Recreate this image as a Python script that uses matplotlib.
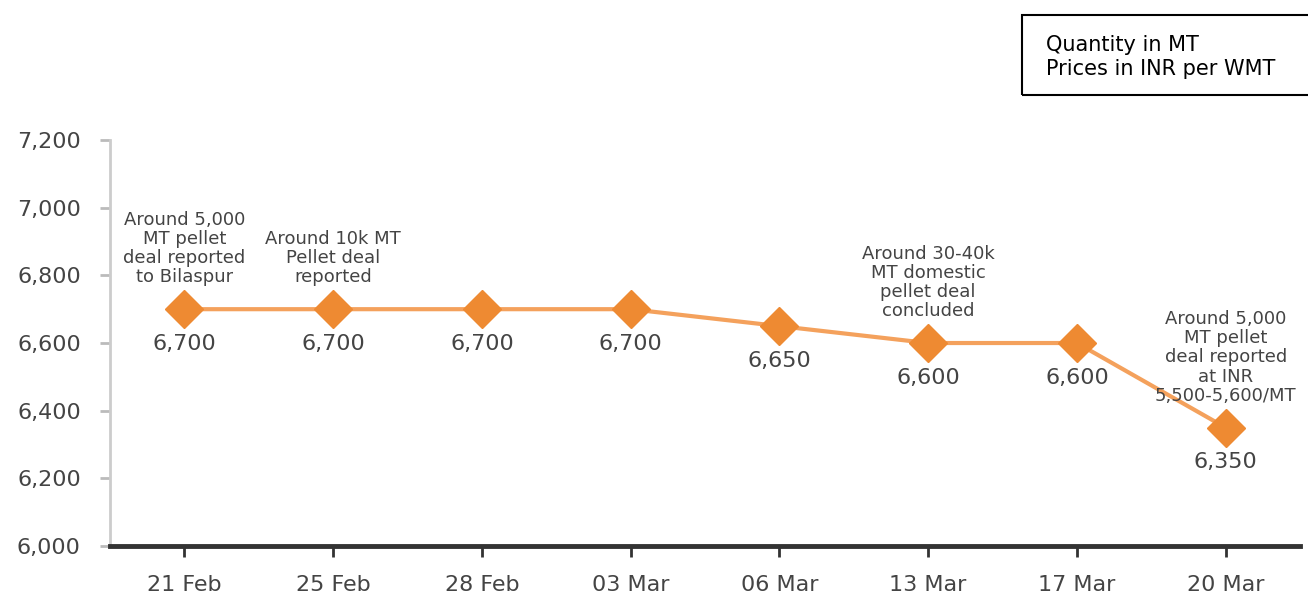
import matplotlib.pyplot as plt
from matplotlib.patches import Rectangle

plt.rcParams['font.family'] = ['DejaVu Sans']

dates = ["21 Feb", "25 Feb", "28 Feb", "03 Mar", "06 Mar", "13 Mar", "17 Mar", "20 Mar"]
prices = [6700, 6700, 6700, 6700, 6650, 6600, 6600, 6350]
notes = [
    "Around 5,000\nMT pellet\ndeal reported\nto Bilaspur",
    "Around 10k MT\nPellet deal\nreported",
    "",
    "",
    "",
    "Around 30-40k\nMT domestic\npellet deal\nconcluded",
    "",
    "Around 5,000\nMT pellet\ndeal reported\nat INR\n5,500-5,600/MT",
]
yticks = [6000, 6200, 6400, 6600, 6800, 7000, 7200]

fig = plt.figure(figsize=(13.08, 6.02), dpi=100)
ax = fig.add_axes([0.0841, 0.093, 0.9098, 0.6744])

x = list(range(len(dates)))
ax.plot(x, prices, color="#F4A15C", lw=3, zorder=2)
ax.plot(x, prices, ls="none", marker="D", ms=19, color="#EE8A32", zorder=3)

for i, p in enumerate(prices):
    ax.annotate(f"{p:,}", (i, p), xytext=(0, -25), textcoords="offset points",
                ha="center", va="center", fontsize=16, color="#444444")
    if notes[i]:
        ax.annotate(notes[i], (i, p), xytext=(0, 16.5),
                    textcoords="offset points", ha="center", va="bottom",
                    fontsize=13, color="#444444", linespacing=1.08)

ax.set_xlim(-0.5, 7.5)
ax.set_ylim(6000, 7200)
ax.set_xticks(x)
ax.set_xticklabels(dates)
ax.set_yticks(yticks)
ax.set_yticklabels([f"{v:,}" for v in yticks])

for s in ["top", "right"]:
    ax.spines[s].set_visible(False)
ax.spines["left"].set_color("#cccccc")
ax.spines["left"].set_linewidth(2)
ax.spines["bottom"].set_color("#333333")
ax.spines["bottom"].set_linewidth(3.5)
ax.tick_params(axis="y", length=7, width=2, color="#bbbbbb", labelsize=16,
               labelcolor="#444444", pad=14)
ax.tick_params(axis="x", length=8, width=2, color="#333333", labelsize=16,
               labelcolor="#444444", pad=13)

fig.patches.append(Rectangle((0.7813, 0.842), 0.3, 0.133, transform=fig.transFigure,
                             fill=False, edgecolor="black", lw=1.5))
fig.text(0.7997, 0.906, "Quantity in MT\nPrices in INR per WMT", fontsize=15,
         va="center", ha="left", linespacing=1.25)

fig.savefig("out.png", dpi=100)
